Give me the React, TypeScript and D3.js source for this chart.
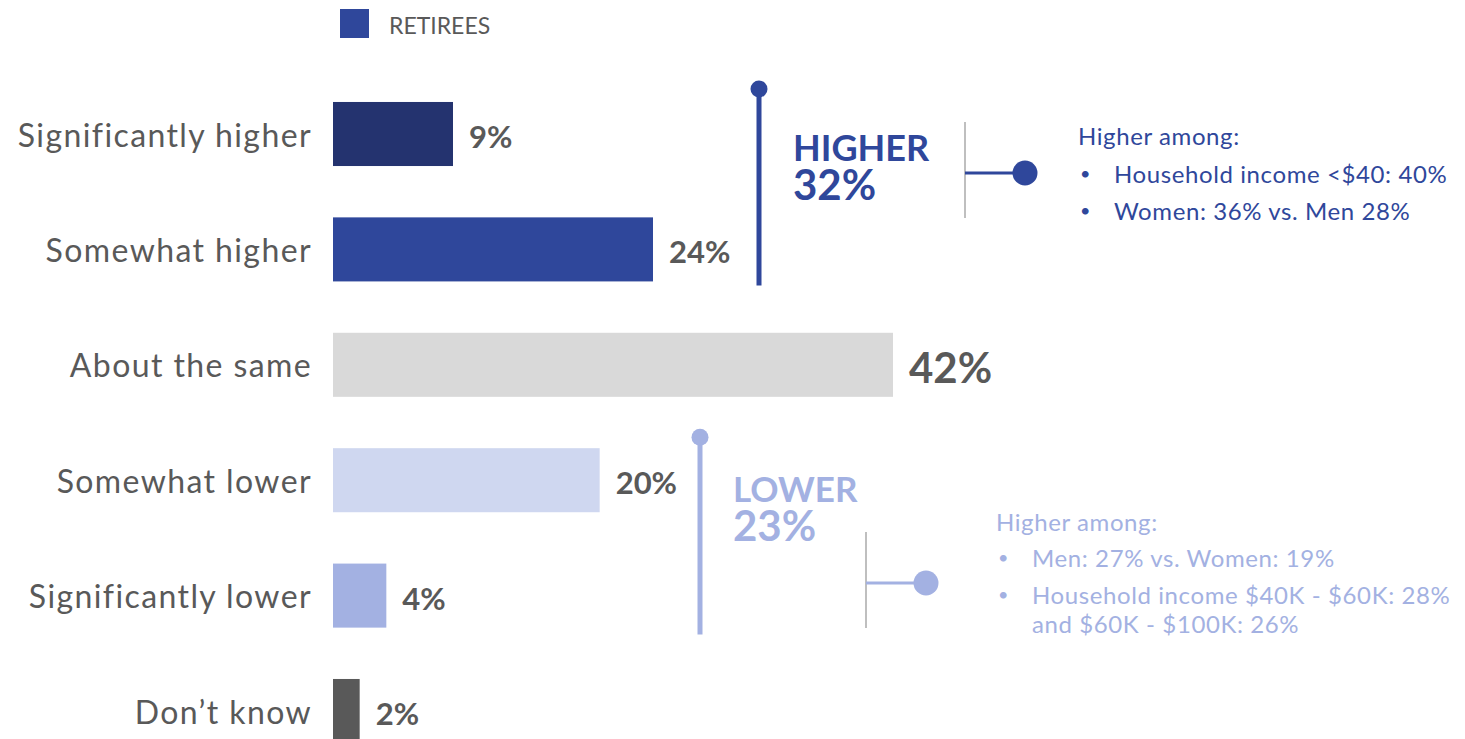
import React from "react";
import * as d3 from "d3";

const categories = [
  "Significantly higher",
  "Somewhat higher",
  "About the same",
  "Somewhat lower",
  "Significantly lower",
  "Don\u2019t know",
];
const values = [9, 24, 42, 20, 4, 2];
const valueLabels = ["9%", "24%", "42%", "20%", "4%", "2%"];
const barColors = ["#24336F", "#2F479B", "#D9D9D9", "#CFD7F0", "#A3B1E2", "#595959"];
const legendLabel = "RETIREES";

const higherTitle = "HIGHER";
const higherValue = "32%";
const higherNotes = ["Household income <$40: 40%", "Women: 36% vs. Men 28%"];
const lowerTitle = "LOWER";
const lowerValue = "23%";
const lowerNotes = ["Men: 27% vs. Women: 19%", "Household income $40K - $60K: 28%", "and $60K - $100K: 26%"];
const notesHeader = "Higher among:";

const W = 1465;
const H = 739;
const FONT = "Lato, 'Open Sans', sans-serif";
const GRAY = "#595959";
const DARK = "#2F479B";
const LIGHT = "#A3B1E2";

export default function App() {
  const y = d3
    .scaleBand<string>()
    .domain(categories)
    .range([76.3, 768.7])
    .paddingInner(0.445)
    .paddingOuter(0.2225);
  const x = d3.scaleLinear().domain([0, 42]).range([333, 893]);
  const bw = y.bandwidth();

  const hiTop = (y(categories[0]) as number) - 13;
  const hiBot = (y(categories[1]) as number) + bw + 4;
  const loTop = (y(categories[3]) as number) - 11;
  const loBot = (y(categories[4]) as number) + bw + 7;

  const noteProps = { fontSize: 24, letterSpacing: 0.6, dominantBaseline: "central" as const };

  return (
    <svg
      width={W}
      height={H}
      style={{ position: "absolute", left: 0, top: 0, background: "#fff" }}
      fontFamily={FONT}
    >
      {/* legend */}
      <rect x={340} y={9} width={29} height={29} fill={DARK} />
      <text x={389} y={25} dominantBaseline="central" fontSize={23} fill={GRAY}>
        {legendLabel}
      </text>

      {/* bars */}
      {categories.map((c, i) => {
        const yy = y(c) as number;
        const big = i === 2;
        return (
          <g key={c}>
            <rect x={x(0)} y={yy} width={x(values[i]) - x(0)} height={bw} fill={barColors[i]} />
            <text
              x={312}
              y={yy + bw / 2}
              textAnchor="end"
              dominantBaseline="central"
              fontSize={32}
              letterSpacing={1.4}
              fill={GRAY}
            >
              {c}
            </text>
            <text
              x={x(values[i]) + 16}
              y={yy + bw / 2 + 2}
              dominantBaseline="central"
              fontSize={big ? 42 : 31}
              fontWeight="bold"
              fill={GRAY}
            >
              {valueLabels[i]}
            </text>
          </g>
        );
      })}

      {/* HIGHER annotation */}
      <line x1={759} x2={759} y1={hiTop} y2={hiBot} stroke={DARK} strokeWidth={5} />
      <circle cx={759} cy={hiTop} r={8.5} fill={DARK} />
      <text x={793} y={161} fontSize={36} fontWeight="bold" fill={DARK}>
        {higherTitle}
      </text>
      <text x={793} y={200} fontSize={42} fontWeight="bold" fill={DARK}>
        {higherValue}
      </text>
      <line x1={965} x2={965} y1={122} y2={218} stroke="#BFBFBF" strokeWidth={2} />
      <line x1={965} x2={1025} y1={173} y2={173} stroke={DARK} strokeWidth={3} />
      <circle cx={1025} cy={173} r={12.5} fill={DARK} />
      <text x={1078} y={135} {...noteProps} fill={DARK}>
        {notesHeader}
      </text>
      {higherNotes.map((n, i) => (
        <g key={n}>
          <text x={1080} y={173 + i * 37} dominantBaseline="central" fontSize={18} fill={DARK}>
            {"\u2022"}
          </text>
          <text x={1114} y={173 + i * 37} {...noteProps} fill={DARK}>
            {n}
          </text>
        </g>
      ))}

      {/* LOWER annotation */}
      <line x1={700} x2={700} y1={loTop} y2={loBot} stroke={LIGHT} strokeWidth={5} />
      <circle cx={700} cy={loTop} r={8.5} fill={LIGHT} />
      <text x={733} y={502} fontSize={35} fontWeight="bold" fill={LIGHT}>
        {lowerTitle}
      </text>
      <text x={733} y={541} fontSize={42} fontWeight="bold" fill={LIGHT}>
        {lowerValue}
      </text>
      <line x1={866} x2={866} y1={532} y2={628} stroke="#BFBFBF" strokeWidth={2} />
      <line x1={866} x2={926} y1={583} y2={583} stroke={LIGHT} strokeWidth={3} />
      <circle cx={926} cy={583} r={12.5} fill={LIGHT} />
      <text x={996} y={521} {...noteProps} fill={LIGHT}>
        {notesHeader}
      </text>
      {lowerNotes.map((n, i) => {
        const yy = i === 0 ? 557 : i === 1 ? 594 : 623;
        return (
          <g key={n}>
            {i < 2 && (
              <text x={998} y={yy} dominantBaseline="central" fontSize={18} fill={LIGHT}>
                {"\u2022"}
              </text>
            )}
            <text x={1032} y={yy} {...noteProps} fill={LIGHT}>
              {n}
            </text>
          </g>
        );
      })}
    </svg>
  );
}
